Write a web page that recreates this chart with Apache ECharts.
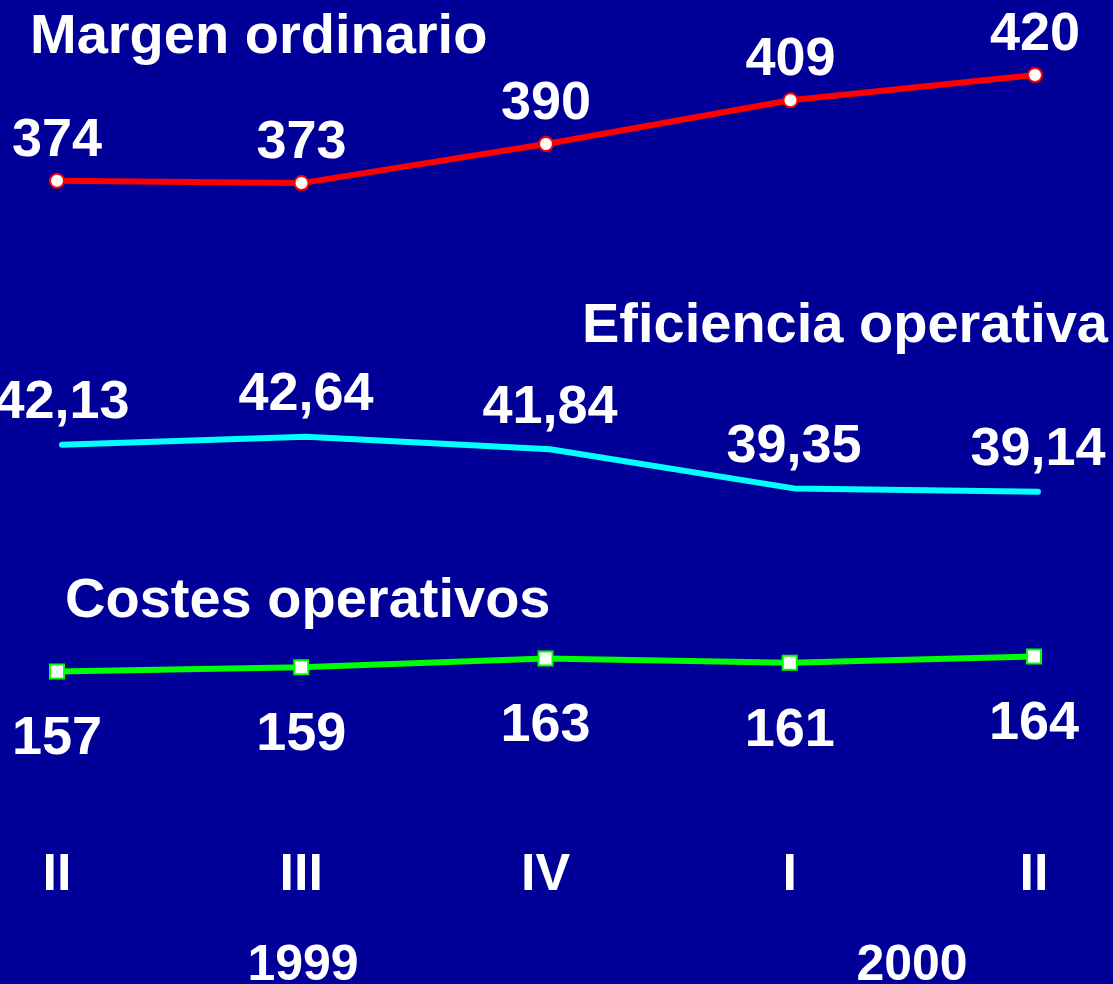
<!DOCTYPE html>
<html>
<head>
<meta charset="utf-8">
<script src="https://cdn.jsdelivr.net/npm/echarts@6/dist/echarts.min.js"></script>
<style>
html,body{margin:0;padding:0;background:#000099;}
#c{width:1113px;height:984px;}
</style>
</head>
<body>
<div id="c"></div>
<script>
const categories = ['II', 'III', 'IV', 'I', 'II'];
const margenOrdinario = [374, 373, 390, 409, 420];
const eficienciaOperativa = [42.13, 42.64, 41.84, 39.35, 39.14];
const costesOperativos = [157, 159, 163, 161, 164];
const yearLabels = ['1999', '2000'];

const FONT = 'Liberation Sans, Arial, sans-serif';
const chart = echarts.init(document.getElementById('c'), null, {renderer: 'canvas'});

function xAx(gi, showLabels) {
  return {
    type: 'category', gridIndex: gi, data: categories, boundaryGap: false,
    axisLine: {show: false}, axisTick: {show: false}, splitLine: {show: false},
    axisLabel: showLabels ? {show: true, color: '#fff', fontSize: 52, fontWeight: 'bold', fontFamily: FONT, margin: 142} : {show: false}
  };
}
function yAx(gi, min, max) {
  return {type: 'value', gridIndex: gi, min: min, max: max, show: false, splitLine: {show: false}};
}
const lbl = {color: '#fff', fontSize: 54, fontWeight: 'bold', fontFamily: FONT};

chart.setOption({
  backgroundColor: '#000099',
  animation: false,
  grid: [
    {left: 57, right: 78, top: 29, height: 230},
    {left: 62, right: 75, top: 384, height: 157},
    {left: 57, right: 79, top: 622, height: 86}
  ],
  xAxis: [xAx(0, false), xAx(1, false), xAx(2, true)],
  yAxis: [yAx(0, 340, 440), yAx(1, 36, 46), yAx(2, 140, 180)],
  series: [
    {
      type: 'line', xAxisIndex: 0, yAxisIndex: 0, data: margenOrdinario,
      symbol: 'circle', symbolSize: 14,
      lineStyle: {color: '#ff0000', width: 6},
      itemStyle: {color: '#ffffff', borderColor: '#ff0000', borderWidth: 2},
      label: Object.assign({show: true, position: 'top', distance: 5}, lbl)
    },
    {
      type: 'line', xAxisIndex: 1, yAxisIndex: 1, data: eficienciaOperativa,
      symbol: 'circle', symbolSize: 1,
      lineStyle: {color: '#00ffff', width: 6, cap: 'round'},
      itemStyle: {color: 'rgba(0,0,0,0)', borderWidth: 0},
      label: Object.assign({show: true, position: 'top', distance: 14,
        formatter: p => p.value.toFixed(2).replace('.', ',')}, lbl)
    },
    {
      type: 'line', xAxisIndex: 2, yAxisIndex: 2, data: costesOperativos,
      symbol: 'rect', symbolSize: 14,
      lineStyle: {color: '#00ff00', width: 6},
      itemStyle: {color: '#ffffff', borderColor: '#00ff00', borderWidth: 2},
      label: Object.assign({show: true, position: 'bottom', distance: 33}, lbl)
    }
  ],
  graphic: [
    {type: 'text', x: 30, y: 38, style: {text: 'Margen ordinario', fill: '#fff', font: 'bold 56px ' + FONT, align: 'left', verticalAlign: 'middle'}},
    {type: 'text', x: 1108, y: 327, style: {text: 'Eficiencia operativa', fill: '#fff', font: 'bold 56px ' + FONT, align: 'right', verticalAlign: 'middle'}},
    {type: 'text', x: 65, y: 602, style: {text: 'Costes operativos', fill: '#fff', font: 'bold 56px ' + FONT, align: 'left', verticalAlign: 'middle'}},
    {type: 'text', x: 303, y: 966, style: {text: yearLabels[0], fill: '#fff', font: 'bold 50px ' + FONT, align: 'center', verticalAlign: 'middle'}},
    {type: 'text', x: 912, y: 966, style: {text: yearLabels[1], fill: '#fff', font: 'bold 50px ' + FONT, align: 'center', verticalAlign: 'middle'}}
  ]
});
</script>
</body>
</html>
